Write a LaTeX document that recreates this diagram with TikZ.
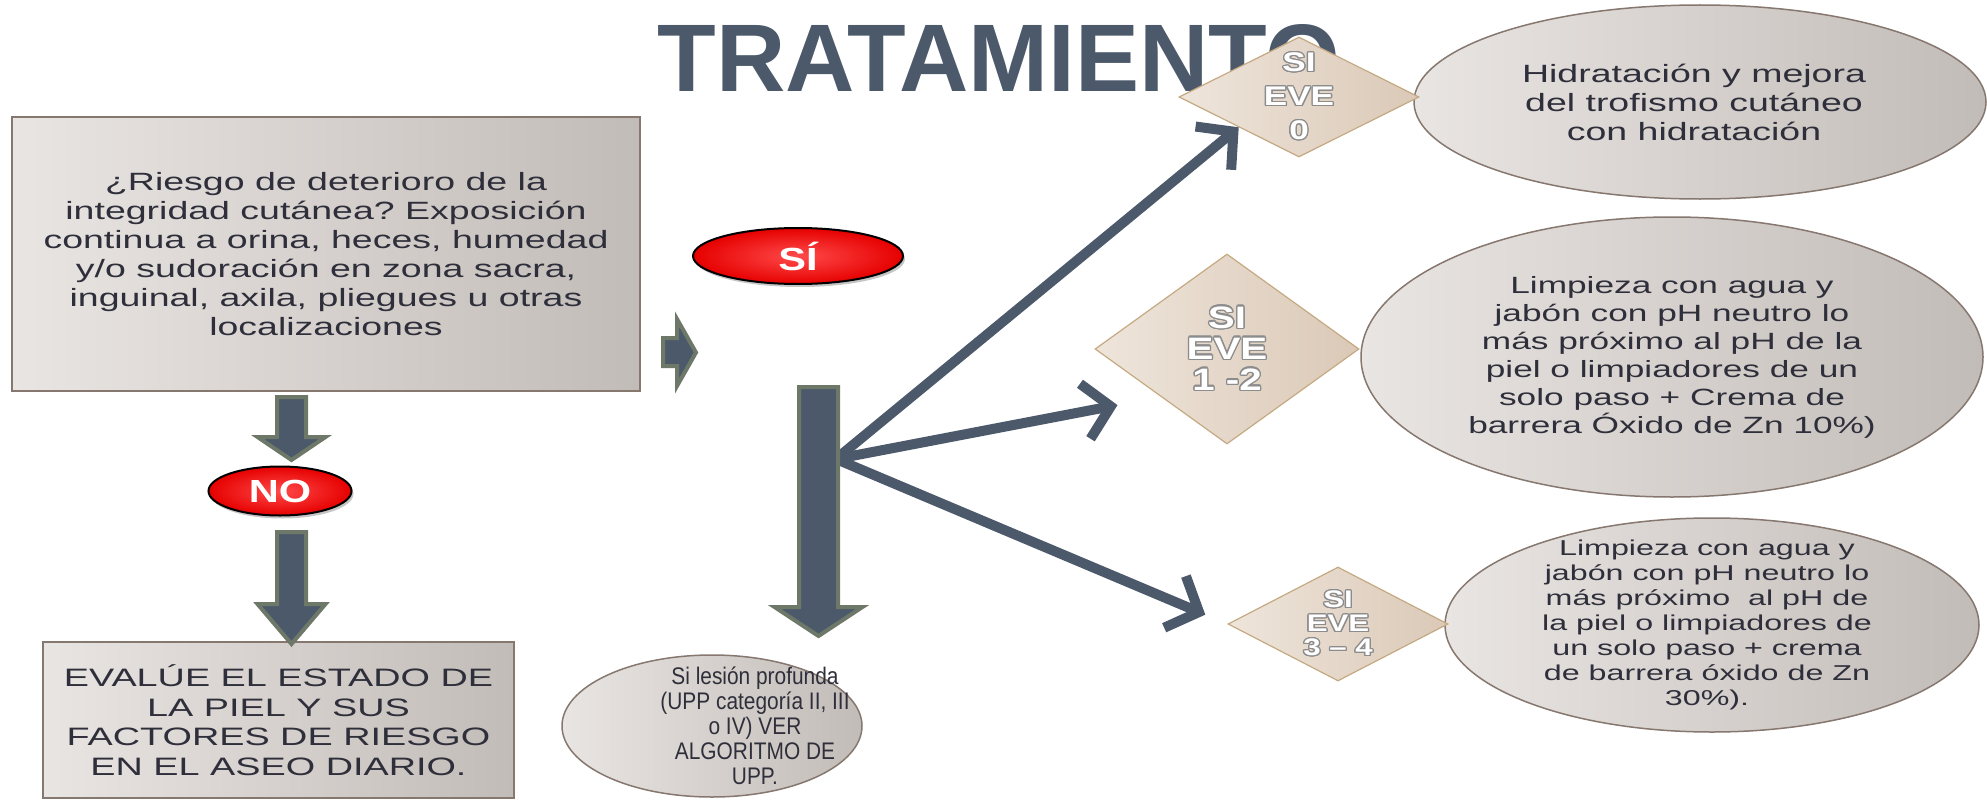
\documentclass[tikz,border=0pt]{standalone}
\usepackage{fontspec}
\setmainfont{Liberation Sans}
\newfontfamily\widefont[FakeStretch=1.5]{Liberation Sans}
\newfontfamily\narrowfont[FakeStretch=0.87]{Liberation Sans}
\newfontfamily\tagfont[FakeStretch=1.3]{Liberation Sans}
\usepackage{contour}
\contourlength{1.3pt}
\usetikzlibrary{shapes.geometric,arrows.meta,shadows}
\frenchspacing

\definecolor{slate}{HTML}{4B596A}
\definecolor{slateedge}{HTML}{6E7869}
\definecolor{boxlight}{HTML}{E9E5E2}
\definecolor{boxdark}{HTML}{C2BCB8}
\definecolor{boxedge}{HTML}{86776F}
\definecolor{evelight}{HTML}{EEE5DB}
\definecolor{evedark}{HTML}{DBC9B7}
\definecolor{eveedge}{HTML}{C5A982}
\definecolor{ink}{HTML}{2F2F3B}
\definecolor{btnlight}{HTML}{FF4A4A}
\definecolor{btndark}{HTML}{E60000}

\newcommand{\glow}[1]{\contour{black!45}{#1}}

\tikzset{
  greybox/.style={rectangle, draw=boxedge, line width=1.8pt, left color=boxlight,
    right color=boxdark, text=ink, align=center, inner sep=0pt},
  greyoval/.style={ellipse, draw=boxedge, line width=1.5pt, left color=boxlight,
    right color=boxdark, inner sep=0pt},
  ovaltext/.style={text=ink, align=center},
  eve/.style={diamond, draw=eveedge, line width=1.2pt, left color=evelight,
    right color=evedark, inner sep=0pt},
  evetext/.style={text=white, align=center},
  button/.style={ellipse, draw=black, line width=2pt, inner color=btnlight,
    outer color=btndark, text=white, inner sep=0pt,
    font=\tagfont\bfseries\fontsize{32}{32}\selectfont,
    drop shadow={shadow xshift=2pt, shadow yshift=-3pt, opacity=0.45}},
  blockarrow/.style={fill=slate, draw=slateedge, line width=4pt, line join=miter},
  thinarrow/.style={draw=slate, line width=10pt,
    -{Straight Barb[length=26pt, width=56pt]}}
}

\begin{document}
\begin{tikzpicture}[x=1pt, y=-1pt]
  \useasboundingbox (0,0) rectangle (1987,800);

  \node[font=\bfseries\fontsize{96}{100}\selectfont, text=slate, anchor=base] (title)
    at (999,92) {TRATAMIENTO};

  \node[greybox, minimum width=628, minimum height=274,
    font=\widefont\fontsize{25}{29}\selectfont] (risk) at (326,254)
    {¿Riesgo de deterioro de la\\integridad cutánea? Exposición\\continua a orina, heces, humedad\\y/o sudoración en zona sacra,\\inguinal, axila, pliegues u otras\\localizaciones};
  \node[greybox, minimum width=471, minimum height=156,
    font=\widefont\fontsize{25.2}{29.5}\selectfont] (skin) at (278.5,720)
    {EVALÚE EL ESTADO DE\\LA PIEL Y SUS\\FACTORES DE RIESGO\\EN EL ASEO DIARIO.};

  \node[button, minimum width=210, minimum height=56] (yes) at (798,256) {SÍ};
  \node[button, minimum width=143, minimum height=49] (no) at (280,491) {NO};

  \node[greyoval, minimum width=300, minimum height=142,
    label={[ovaltext, xshift=43pt, font=\narrowfont\fontsize{24}{25}\selectfont]center:{Si lesión profunda\\(UPP categoría II, III\\o IV) VER\\ALGORITMO DE\\UPP.}}]
    (upp) at (712,726) {};

  \node[greyoval, minimum width=572, minimum height=194,
    label={[ovaltext, xshift=-6pt, font=\widefont\fontsize{25}{29}\selectfont]center:{Hidratación y mejora\\del trofismo cutáneo\\con hidratación}}]
    (hyd) at (1700,102) {};
  \node[greyoval, minimum width=622, minimum height=280,
    label={[ovaltext, font=\widefont\fontsize{23.5}{28}\selectfont]center:{Limpieza con agua y\\jabón con pH neutro lo\\más próximo al pH de la\\piel o limpiadores de un\\solo paso + Crema de\\barrera Óxido de Zn 10\%)}}]
    (zn10) at (1672,357) {};
  \node[greyoval, minimum width=534, minimum height=214,
    label={[ovaltext, xshift=-5pt, font=\widefont\fontsize{21.5}{25}\selectfont]center:{Limpieza con agua y\\jabón con pH neutro lo\\más próximo~ al pH de\\la piel o limpiadores de\\un solo paso + crema\\de barrera óxido de Zn\\30\%).}}]
    (zn30) at (1712,625) {};

  \node[eve, minimum width=240, minimum height=120,
    label={[evetext, font=\tagfont\bfseries\fontsize{27}{34}\selectfont]center:{\glow{SI}\\\glow{EVE}\\\glow{0}}}]
    (d0) at (1299,97) {};
  \node[eve, minimum width=264, minimum height=190,
    label={[evetext, font=\tagfont\bfseries\fontsize{31}{31}\selectfont]center:{\glow{SI}\\\glow{EVE}\\\glow{1 -2}}}]
    (d12) at (1227,349) {};
  \node[eve, minimum width=220, minimum height=114,
    label={[evetext, font=\tagfont\bfseries\fontsize{24}{24}\selectfont]center:{\glow{SI}\\\glow{EVE}\\\glow{3 – 4}}}]
    (d34) at (1338,624) {};

  \coordinate (br) at (836,459);
  \foreach \target/\gap in {d0.south west/0pt, d12.south west/44pt, d34.west/24pt}
    \draw[thinarrow, shorten >=\gap] (br) -- (\target);

  \foreach \cx/\top/\neck/\tip/\sw/\hw in {291.5/397/437/460/14.5/34, 291.5/532/604/644/14.5/34, 818.5/387/607/636/19.5/44}
    \draw[blockarrow] (\cx-\sw,\top) -- (\cx+\sw,\top) -- (\cx+\sw,\neck) -- (\cx+\hw,\neck)
      -- (\cx,\tip) -- (\cx-\hw,\neck) -- (\cx-\sw,\neck) -- cycle;
  \draw[blockarrow] (663,338) -- (677,338) -- (677,319) -- (696,352.5) -- (677,386)
    -- (677,366) -- (663,366) -- cycle;
\end{tikzpicture}
\end{document}
